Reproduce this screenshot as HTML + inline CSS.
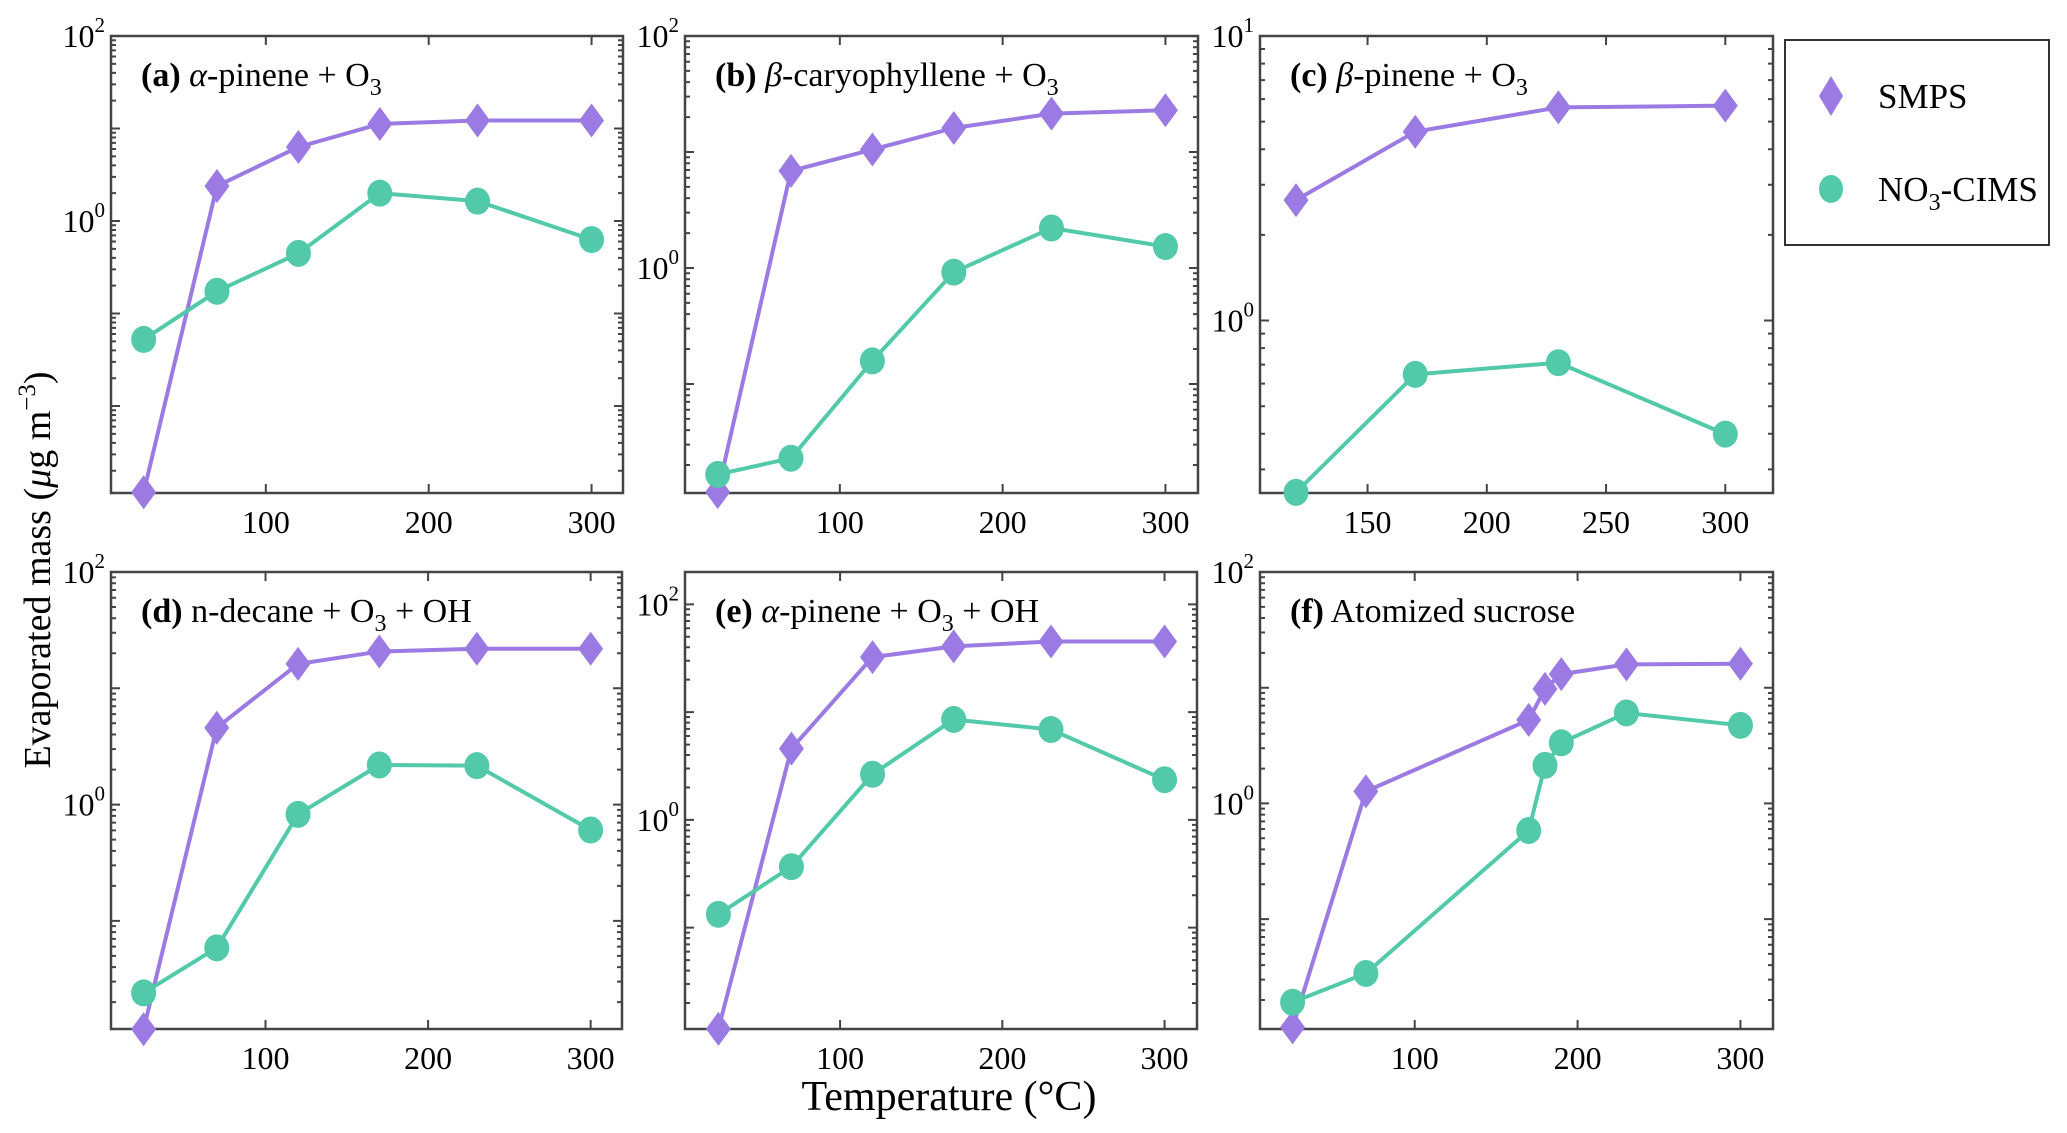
<!DOCTYPE html>
<html><head><meta charset="utf-8"><style>
html,body{margin:0;padding:0;background:#fff;}
svg{display:block;font-family:"Liberation Serif",serif;}
</style></head><body>
<svg id="fig" width="2067" height="1133" viewBox="0 0 2067 1133">
<rect width="2067" height="1133" fill="#fff"/>
<text x="949" y="1110" font-size="42" text-anchor="middle">Temperature (°C)</text>
<text transform="translate(50,570) rotate(-90)" font-size="38" text-anchor="middle">Evaporated mass (<tspan font-style="italic">μ</tspan>g m<tspan dy="-15" font-size="25">−3</tspan><tspan dy="15">)</tspan></text>
<g>
<rect x="1785" y="40" width="264" height="205" fill="#fff" stroke="#333" stroke-width="2"/>
<path d="M1831,76 L1843,96 L1831,116 L1819,96 Z" fill="#9b7be3"/>
<text x="1878" y="108" font-size="35">SMPS</text>
<ellipse cx="1831" cy="189" rx="12" ry="14" fill="#52c9a8"/>
<text x="1878" y="201" font-size="35">NO<tspan dy="9" font-size="24">3</tspan><tspan dy="-9">-CIMS</tspan></text>
</g>
</svg>
<script>
// Panel data (temperatures in °C, evaporated mass in µg m^-3)
const tempA = [25, 70, 120, 170, 230, 300];
const smpsA = [0.00117, 2.39, 6.31, 11.2, 12.2, 12.2];
const cimsA = [0.0525, 0.174, 0.447, 2.0, 1.64, 0.63];
const tempB = [25, 70, 120, 170, 230, 300];
const smpsB = [0.0117, 6.87, 10.5, 16.1, 21.4, 22.9];
const cimsB = [0.0166, 0.0229, 0.158, 0.92, 2.21, 1.53];
const tempC = [120, 170, 230, 300];
const smpsC = [2.65, 4.61, 5.61, 5.69];
const cimsC = [0.249, 0.647, 0.711, 0.399];
const tempD = [25, 70, 120, 170, 230, 300];
const smpsD = [0.0117, 4.58, 16.2, 20.7, 21.9, 21.9];
const cimsD = [0.024, 0.0586, 0.824, 2.19, 2.16, 0.604];
const tempE = [25, 70, 120, 170, 230, 300];
const smpsE = [0.0115, 4.58, 32.4, 40.7, 45.2, 45.2];
const cimsE = [0.133, 0.368, 2.65, 8.55, 6.89, 2.36];
const tempF = [25, 70, 170, 180, 190, 230, 300];
const smpsF = [0.0116, 1.27, 5.27, 9.77, 13.1, 15.9, 16.1];
const cimsF = [0.0191, 0.0339, 0.583, 2.13, 3.34, 6.05, 4.73];
const titles = ["(a)", "(b)", "(c)", "(d)", "(e)", "(f)"];
const xTicksMain = [100, 200, 300];
const xTicksC = [150, 200, 250, 300];
const yLabelsMain = [2, 0];
const yLabelsC = [1, 0];

const sub='<tspan dy="9" font-size="24">3</tspan>';
const panels = [
 {id:"a", box:[111,36,623,493], x:[4.94,319.3], y:[-2.94,2], xt:xTicksMain, yl:yLabelsMain, t:tempA, s:smpsA, c:cimsA, title:'<tspan font-weight="bold">(a)</tspan> <tspan font-style="italic">α</tspan>-pinene + O'+sub},
 {id:"b", box:[685,36,1198,493], x:[4.9,320], y:[-1.94,2], xt:xTicksMain, yl:yLabelsMain, t:tempB, s:smpsB, c:cimsB, title:'<tspan font-weight="bold">(b)</tspan> <tspan font-style="italic">β</tspan>-caryophyllene + O'+sub},
 {id:"c", box:[1260,36,1773,493], x:[104.9,320], y:[-0.606,1], xt:xTicksC, yl:yLabelsC, t:tempC, s:smpsC, c:cimsC, title:'<tspan font-weight="bold">(c)</tspan> <tspan font-style="italic">β</tspan>-pinene + O'+sub},
 {id:"d", box:[111,572,622,1029], x:[4.94,319.3], y:[-1.93,2], xt:xTicksMain, yl:yLabelsMain, t:tempD, s:smpsD, c:cimsD, title:'<tspan font-weight="bold">(d)</tspan> n-decane + O'+sub+'<tspan dy="-9"> + OH</tspan>'},
 {id:"e", box:[685,572,1197,1029], x:[4.4,320], y:[-1.94,2.3], xt:xTicksMain, yl:yLabelsMain, t:tempE, s:smpsE, c:cimsE, title:'<tspan font-weight="bold">(e)</tspan> <tspan font-style="italic">α</tspan>-pinene + O'+sub+'<tspan dy="-9"> + OH</tspan>'},
 {id:"f", box:[1260,572,1773,1029], x:[5,320], y:[-1.95,2], xt:xTicksMain, yl:yLabelsMain, t:tempF, s:smpsF, c:cimsF, title:'<tspan font-weight="bold">(f)</tspan> Atomized sucrose'}
];
const NS="http://www.w3.org/2000/svg";
const svg=document.getElementById("fig");
function mk(tag, attrs, parent){const e=document.createElementNS(NS,tag);for(const k in attrs)e.setAttribute(k,attrs[k]);parent.appendChild(e);return e;}
panels.forEach(p=>{
 const [L,T,R,B]=p.box;
 const g=mk("g",{},svg);
 
 
 const sx=v=>L+(v-p.x[0])/(p.x[1]-p.x[0])*(R-L);
 const sy=v=>B-(Math.log10(v)-p.y[0])/(p.y[1]-p.y[0])*(B-T);
 const frame=mk("rect",{x:L,y:T,width:R-L,height:B-T,fill:"none",stroke:"#444","stroke-width":2.5},g);
 
 
 let d="";
 p.xt.forEach(v=>{const x=sx(v);d+=`M${x},${B}v-9M${x},${T}v9`;
  const tl=mk("text",{x:x,y:B+40,"font-size":32,"text-anchor":"middle"},g);tl.textContent=v;
  
  });
 for(let dec=Math.floor(p.y[0]);dec<=Math.ceil(p.y[1]);dec++){
  for(let m=1;m<10;m++){const lv=dec+Math.log10(m);if(lv<p.y[0]||lv>p.y[1])continue;
   const y=B-(lv-p.y[0])/(p.y[1]-p.y[0])*(B-T);const len=m===1?9:5;
   d+=`M${L},${y}h${len}M${R},${y}h-${len}`;}
 }
 const ticks=mk("path",{d:d,stroke:"#444","stroke-width":2,fill:"none"},g);
 
 
 p.yl.forEach(e=>{const y=sy(Math.pow(10,e));
  const tl=mk("text",{x:L-6,y:y+11,"font-size":32,"text-anchor":"end"},g);
  tl.innerHTML=`10<tspan dy="-15" font-size="21">${e}</tspan>`;
  
  });
 const tt=mk("text",{x:L+30,y:T+50,"font-size":34},g);tt.innerHTML=p.title;
 
 
 const series=[{v:p.s,col:"#9b7be3",n:"smps"},{v:p.c,col:"#52c9a8",n:"cims"}];
 series.forEach(s=>{
  const pts=p.t.map((t,i)=>[sx(t),sy(s.v[i])]);
  const ln=mk("polyline",{points:pts.map(q=>q.join(",")).join(" "),fill:"none",stroke:s.col,"stroke-width":4,"stroke-linejoin":"round"},g);
  
  
  pts.forEach(([x,y])=>{
   let m;
   if(s.n==="smps") m=mk("path",{d:`M${x},${y-17}L${x+12.5},${y}L${x},${y+17}L${x-12.5},${y}Z`,fill:s.col},g);
   else m=mk("ellipse",{cx:x,cy:y,rx:12.5,ry:13.5,fill:s.col},g);
   
   
  });
 });
});
</script>
</body></html>
